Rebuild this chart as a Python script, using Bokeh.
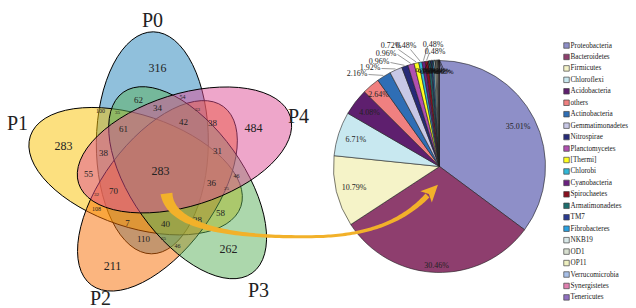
import numpy as np
from bokeh.plotting import figure
from bokeh.models import Range1d, ColumnDataSource
from bokeh.core.properties import value
from bokeh.embed import file_html
from bokeh.resources import INLINE

# ---------------- data ----------------
set_names = ["P0", "P1", "P2", "P3", "P4"]
venn_counts = [316, 283, 211, 262, 484, 283,
               62, 34, 54, 100, 35, 61, 42, 33, 38, 31, 38, 55, 36, 46,
               25, 32, 70, 108, 7, 40, 38, 58, 110, 35, 46]

phyla = ["Proteobacteria", "Bacteroidetes", "Firmicutes", "Chloroflexi",
         "Acidobacteria", "others", "Actinobacteria", "Gemmatimonadetes",
         "Nitrospirae", "Planctomycetes", "[Thermi]", "Chlorobi",
         "Cyanobacteria", "Spirochaetes", "Armatimonadetes", "TM7",
         "Fibrobacteres", "NKB19", "OD1", "OP11", "Verrucomicrobia",
         "Synergistetes", "Tenericutes"]
percent = [35.01, 30.46, 10.79, 6.71, 4.08, 2.64, 2.16, 1.92, 0.96, 0.96,
           0.72, 0.48, 0.48, 0.48, 0.36, 0.24, 0.24, 0.24, 0.19, 0.16,
           0.12, 0.07, 0.05]

# ---------------- styles / layout ----------------
venn_colors = ["#2181b9", "#f9c100", "#f76b00", "#5aaf5a", "#de4e96"]
pie_colors = ["#8e8fc8", "#8e3e6e", "#f5f3c8", "#c8e8f0", "#5e1f6e",
              "#f08080", "#2f6eb5", "#c8c8e6", "#262a78", "#b050b0",
              "#ffff20", "#30b8d8", "#6a2080", "#8a1020", "#1e6e6e",
              "#2a3a90", "#2aa0e0", "#d8e8e8", "#d8e0d0", "#eef0c0",
              "#a8c0e8", "#e080b0", "#9070c0"]
SERIF = value("Liberation Serif")
WIDTH, HEIGHT = 636, 308


def Y(yp):
    return HEIGHT - np.asarray(yp, dtype=float)


p = figure(width=WIDTH, height=HEIGHT, x_range=Range1d(0, WIDTH), y_range=Range1d(0, HEIGHT),
           output_backend="svg", toolbar_location=None, min_border=0,
           x_axis_location=None, y_axis_location=None)
p.grid.visible = False
p.outline_line_color = None

# ---------------- Venn (5 rotated ellipses) ----------------
C = (163.0, 168.0)
A, B, dist = 111.0, 56.0, 28.0
theta0, alpha, beta = 92.5, 21.0, -3.0
for i in range(5):
    th = theta0 + 72 * i
    cx = C[0] + dist * np.cos(np.radians(th + alpha))
    cy = float(Y(C[1])) + dist * np.sin(np.radians(th + alpha))
    p.ellipse(x=cx, y=cy, width=2 * A, height=2 * B, angle=np.radians(th + beta),
              fill_color=venn_colors[i], fill_alpha=0.5,
              line_color="black", line_width=1)

vx = [157, 63, 112, 228, 253, 160,
      138, 157, 182, 100, 117, 123, 183, 197, 212, 217, 103, 88, 211, 236,
      226, 96, 113, 96, 127, 165, 197, 220, 143, 163, 177]
vy = [67, 145, 265, 248, 127, 170,
      99, 107, 96, 110, 112, 128, 121, 109, 122, 150, 152, 173, 182, 175,
      188, 194, 190, 208, 222, 223, 219, 212, 238, 238, 245]
vs = [12, 12, 12, 12, 12, 12,
      9, 9, 6, 6, 5, 9, 9, 5, 9, 9, 9, 9, 9, 6,
      5, 5, 9, 6, 9, 9, 9, 9, 9, 5, 6]
p.text(x=vx, y=Y(vy), text=[str(v) for v in venn_counts],
       text_font_size=[f"{s}px" for s in vs], text_font=SERIF,
       text_align="center", text_baseline="middle", text_color="#222222")

sx = [152, 17, 100, 258, 298]
sy = [19, 122, 297, 289, 115]
p.text(x=sx, y=Y(sy), text=set_names, text_font_size="20px", text_font=SERIF,
       text_align="center", text_baseline="middle", text_color="#222222")

# ---------------- Pie ----------------
pcx, pcy, R = 439.0, float(Y(166)), 106.0
frac = np.array(percent) / sum(percent)
cum_end = np.cumsum(frac)
cum_start = cum_end - frac
start = np.radians(90 - 360 * cum_end)
end = np.radians(90 - 360 * cum_start)
mid = (start + end) / 2
src = ColumnDataSource(dict(start=start, end=end, color=pie_colors))
p.wedge(x=pcx, y=pcy, radius=R, start_angle="start", end_angle="end",
        direction="anticlock", fill_color="color", line_color="#222222",
        line_width=0.6, source=src)

# inside labels
in_idx = [0, 1, 2, 3, 4, 5]
in_r = [88, 99, 88, 88, 88, 94]
p.text(x=[pcx + r * np.cos(mid[k]) for k, r in zip(in_idx, in_r)],
       y=[pcy + r * np.sin(mid[k]) for k, r in zip(in_idx, in_r)],
       text=[f"{percent[k]:.2f}%" for k in in_idx], text_font_size="8px",
       text_font=SERIF, text_align="center", text_baseline="middle",
       text_color="#222222")

# outside labels with leader lines
out_idx = [6, 7, 8, 9, 10, 11, 12, 13]
out_tx = [367, 380, 389, 396, 401, 416, 443, 445]
out_ty = [73, 67, 61, 53, 45, 45, 44, 51]
out_lx = [368, 381, 390, 397, 398, 410, 427, 429]
out_ly = [74, 68, 62, 54, 49, 49, 46, 52]
ex = [pcx + (R + 1) * np.cos(mid[k]) for k in out_idx]
ey = [pcy + (R + 1) * np.sin(mid[k]) for k in out_idx]
p.segment(x0=out_lx, y0=Y(out_ly), x1=ex, y1=ey, line_color="#555555", line_width=0.6)
p.text(x=out_tx, y=Y(out_ty), text=[f"{percent[k]:.2f}%" for k in out_idx],
       text_font_size="8px", text_font=SERIF, text_align="right",
       text_baseline="middle", text_color="#222222")

# crowded labels of the smallest slices
tiny_idx = list(range(14, 23))
tx = [424 + 2.5 * j for j in range(len(tiny_idx))]
ty = [69 + (j % 3) for j in range(len(tiny_idx))]
ex2 = [pcx + (R + 1) * np.cos(mid[k]) for k in tiny_idx]
ey2 = [pcy + (R + 1) * np.sin(mid[k]) for k in tiny_idx]
p.segment(x0=tx, y0=Y(ty), x1=ex2, y1=ey2, line_color="#111111", line_width=0.6)
p.text(x=tx, y=Y(ty), text=[f"{percent[k]:.2f}%" for k in tiny_idx],
       text_font_size="7px", text_font=SERIF, text_align="center",
       text_baseline="middle", text_color="#111111")

# ---------------- Arrow ----------------
def bez(P, n=60):
    t = np.linspace(0, 1, n)[:, None]
    P = np.array(P, float)
    return ((1 - t) ** 3) * P[0] + 3 * ((1 - t) ** 2) * t * P[1] + 3 * (1 - t) * t ** 2 * P[2] + t ** 3 * P[3]

s1 = bez([(166, 193), (170, 228), (235, 238), (320, 236)])
s2 = bez([(320, 236), (372, 234), (404, 219), (427, 195)])
t1 = np.linspace(0, 1, len(s1))
w1 = 3 + 9 * (1 - t1) ** 2
w2 = 3 + 2.5 * np.linspace(0, 1, len(s2)) ** 2
pts = np.vstack([s1, s2[1:]])
w = np.concatenate([w1, w2[1:]])
pts[:, 1] = Y(pts[:, 1])
tan = np.gradient(pts, axis=0)
tan /= np.linalg.norm(tan, axis=1)[:, None]
nor = np.column_stack([-tan[:, 1], tan[:, 0]])
left = pts + nor * (w / 2)[:, None]
right = pts - nor * (w / 2)[:, None]
poly = np.vstack([left, right[::-1]])
p.patch(x=poly[:, 0], y=poly[:, 1], fill_color="#f2b12a", line_color=None)
end_pt = pts[-1]
dvec = tan[-1]
nvec = nor[-1]
tip = end_pt + dvec * 15
b1 = end_pt - dvec * 2 + nvec * 8
b2 = end_pt - dvec * 2 - nvec * 8
p.patch(x=[tip[0], b1[0], end_pt[0] + dvec[0] * 2, b2[0]],
        y=[tip[1], b1[1], end_pt[1] + dvec[1] * 2, b2[1]],
        fill_color="#f2b12a", line_color=None)

# ---------------- Legend ----------------
ly = [45 + 11.45 * i for i in range(len(phyla))]
p.scatter(x=[566] * len(phyla), y=Y(ly), marker="square", size=5.5,
          fill_color=pie_colors, line_color="#444444", line_width=0.7)
p.text(x=[570] * len(phyla), y=Y(ly), text=phyla, text_font_size="7.2px",
       text_font=SERIF, text_align="left", text_baseline="middle",
       text_color="#1a1a1a")

open("out.html", "w").write(file_html(p, INLINE))
